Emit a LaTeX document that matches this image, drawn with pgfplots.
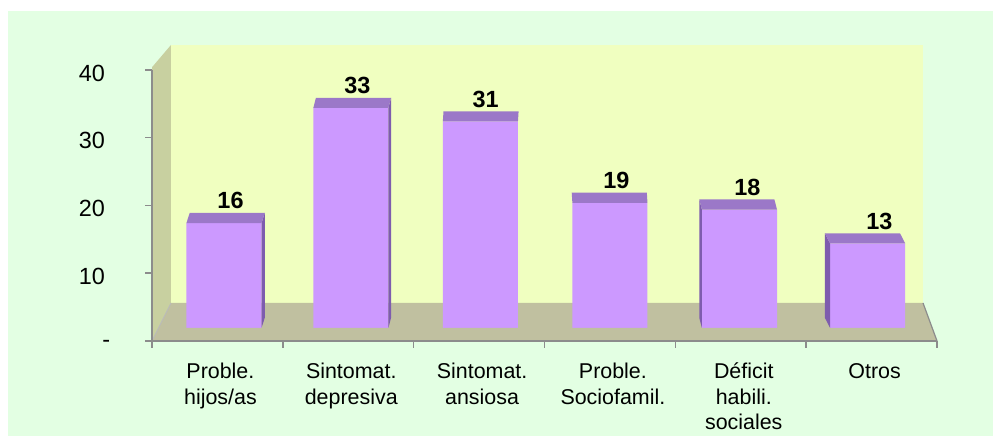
\documentclass[border=0pt]{standalone}
\usepackage{pgfplots}
\pgfplotsset{compat=1.18}
\usepackage{pgfplotstable}
\usepackage{fontspec}
\setmainfont{Liberation Sans}
\definecolor{bggreen}{HTML}{E3FFE3}
\definecolor{wallback}{HTML}{F0FFC0}
\definecolor{wallleft}{HTML}{C8D0A0}
\definecolor{floorc}{HTML}{C0C0A0}
\definecolor{barfront}{HTML}{CC99FF}
\definecolor{bartop}{HTML}{9B78C8}
\definecolor{barside}{HTML}{7E5CAE}
\definecolor{axisgray}{HTML}{8C8C8C}

\pgfplotstableread{
x    v  lx
0.05 16 0.10
1.02 33 1.07
2.01 31 2.05
3.00 19 3.05
3.99 18 4.05
4.97 13 5.06
}\datatable

\begin{document}
\begin{tikzpicture}[x=1bp,y=1bp]
\useasboundingbox (0,0) rectangle (993,436);
\fill[white] (0,0) rectangle (993,436);
\fill[bggreen] (8,0) rectangle (993,425);
\begin{axis}[
  at={(152bp,95bp)}, anchor=south west,
  scale only axis, width=785bp, height=271bp,
  xmin=-0.5, xmax=5.5, ymin=0, ymax=40,
  clip=false, axis on top,
  axis x line*=bottom, axis y line*=left,
  axis line style={axisgray, line width=1.5bp},
  xtick={-0.5,0.5,...,5.5},
  x tick label as interval,
  xticklabels={{Proble.\\hijos/as},{Sintomat.\\depresiva},{Sintomat.\\ansiosa},{Proble.\\Sociofamil.},{Déficit\\habili.\\sociales},{Otros}},
  ytick={0,10,20,30,40},
  yticklabels={{\makebox[0bp][l]{\hspace{-2bp}-}},10,20,30,40},
  tick align=outside,
  major tick length=7bp,
  tick style={axisgray, line width=1.5bp},
  /pgf/number format/assume math mode=true,
  yticklabel style={font=\fontsize{23.5}{27}\selectfont, anchor=east, inner sep=0pt, xshift=-40bp, yshift=-3bp},
  xticklabel style={font=\fontsize{21.5}{25.5}\selectfont, align=center, anchor=north, inner sep=0pt, yshift=-15bp, xshift=3bp},
]
% walls and floor
\addplot[fill=wallback, draw=none] coordinates {(-0.355,5.61) (5.393,5.61) (5.393,43.69) (-0.355,43.69)};
\addplot[fill=wallleft, draw=none] coordinates {(-0.5,0) (-0.5,40.4) (-0.355,43.69) (-0.355,5.61)};
\addplot[fill=floorc, draw=none] coordinates {(-0.5,0) (5.5,0) (5.393,5.61) (-0.355,5.61)};
% bar front faces
\addplot[ybar, bar width=0.574, fill=barfront, draw=none] table[x=x, y expr=\thisrow{v}+1.4] {\datatable};
% side faces
\addplot[fill=barside, draw=none] coordinates {(0.337,1.92) (0.337,17.4) (0.362,18.9) (0.362,3.42)};
\addplot[fill=barside, draw=none] coordinates {(1.307,1.92) (1.307,34.4) (1.327,35.9) (1.327,3.42)};
\addplot[fill=barside, draw=none] coordinates {(3.703,1.92) (3.703,19.4) (3.683,20.9) (3.683,3.42)};
\addplot[fill=barside, draw=none] coordinates {(4.683,1.92) (4.683,14.4) (4.643,15.9) (4.643,3.42)};
% top faces
\addplot[fill=bartop, draw=none] coordinates {(-0.237,17.4) (0.337,17.4) (0.362,18.9) (-0.212,18.9)};
\addplot[fill=bartop, draw=none] coordinates {(0.733,34.4) (1.307,34.4) (1.327,35.9) (0.753,35.9)};
\addplot[fill=bartop, draw=none] coordinates {(1.723,32.4) (2.297,32.4) (2.302,33.9) (1.728,33.9)};
\addplot[fill=bartop, draw=none] coordinates {(2.713,20.4) (3.287,20.4) (3.282,21.9) (2.708,21.9)};
\addplot[fill=bartop, draw=none] coordinates {(3.703,19.4) (4.277,19.4) (4.257,20.9) (3.683,20.9)};
\addplot[fill=bartop, draw=none] coordinates {(4.683,14.4) (5.257,14.4) (5.217,15.9) (4.643,15.9)};
% floor strip in front of the bars
\addplot[fill=floorc, draw=none] coordinates {(-0.5,0) (5.5,0) (5.464,1.92) (-0.45,1.92)};
\addplot[axisgray, line width=1.2bp] coordinates {(5.5,0) (5.393,5.61)};
\addplot[axisgray!60, line width=0.8bp] coordinates {(-0.5,0) (-0.355,5.61)};
% data labels
\addplot[draw=none, mark=none, nodes near coords, point meta=explicit,
  nodes near coords style={anchor=center, inner sep=0pt, font=\fontsize{23.5}{27}\selectfont\bfseries}]
  table[x=lx, y expr=\thisrow{v}+4.7, meta=v] {\datatable};
\end{axis}
\end{tikzpicture}
\end{document}
